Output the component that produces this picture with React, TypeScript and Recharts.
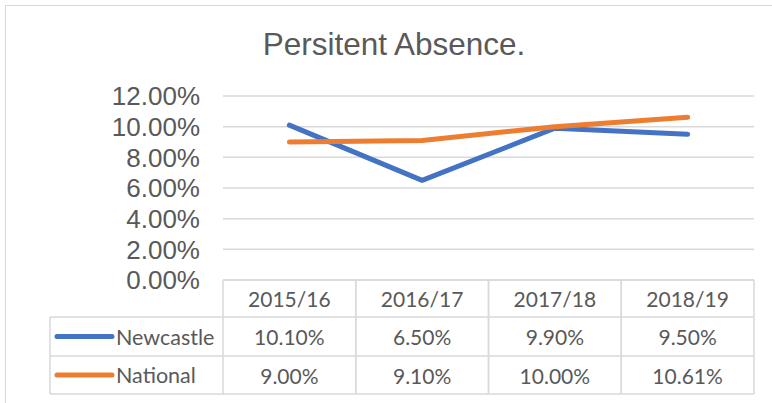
import React from "react";
import { LineChart, Line, XAxis, YAxis, CartesianGrid } from "recharts";

const categories = ["2015/16", "2016/17", "2017/18", "2018/19"];
const newcastle = [0.101, 0.065, 0.099, 0.095];
const national = [0.09, 0.091, 0.1, 0.1061];
const newcastleLabels = ["10.10%", "6.50%", "9.90%", "9.50%"];
const nationalLabels = ["9.00%", "9.10%", "10.00%", "10.61%"];
const yTicks = [0, 0.02, 0.04, 0.06, 0.08, 0.1, 0.12];
const seriesNames = ["Newcastle", "National"];
const seriesColors = ["#4472C4", "#ED7D31"];

const data = categories.map((c, i) => ({
  cat: c,
  Newcastle: newcastle[i],
  National: national[i],
}));
const rowLabels = [newcastleLabels, nationalLabels];

const W = 772;
const H = 403;
const PLOT_LEFT = 223;
const PLOT_RIGHT = 754;
const HALF = (PLOT_RIGHT - PLOT_LEFT) / 8;
const ROWS = [0, 37, 76, 114];
const GRID = "#d9d9d9";
const TEXT = "#595959";
const TFONT = "Lato, 'Open Sans', sans-serif";

const TableTick = (props: any) => {
  const { x, y, payload, index } = props;
  const l = x - HALF;
  const r = x + HALF;
  const idx = payload?.index ?? index;
  const els: any[] = [];
  els.push(<line key="vl" x1={l} x2={l} y1={y} y2={y + ROWS[3]} stroke={GRID} strokeWidth={1.5} />);
  els.push(<line key="vr" x1={r} x2={r} y1={y} y2={y + ROWS[3]} stroke={GRID} strokeWidth={1.5} />);
  ROWS.forEach((dy, k) => {
    els.push(<line key={"h" + k} x1={l} x2={r} y1={y + dy} y2={y + dy} stroke={GRID} strokeWidth={1.5} />);
  });
  els.push(
    <text key="hd" x={x} y={y + 18} textAnchor="middle" dominantBaseline="central" fontSize={21} fill={TEXT} fontFamily={TFONT}>
      {payload.value}
    </text>
  );
  rowLabels.forEach((labels, s) => {
    const cy = (y + ROWS[s + 1] + y + ROWS[s + 2]) / 2;
    els.push(
      <text key={"v" + s} x={x} y={cy} textAnchor="middle" dominantBaseline="central" fontSize={21} fill={TEXT} fontFamily={TFONT}>
        {labels[idx]}
      </text>
    );
  });
  if (idx === 0) {
    const ll = l - 173;
    els.push(<line key="lvl" x1={ll} x2={ll} y1={y + ROWS[1]} y2={y + ROWS[3]} stroke={GRID} strokeWidth={1.5} />);
    [1, 2, 3].forEach((k) => {
      els.push(<line key={"lh" + k} x1={ll} x2={l} y1={y + ROWS[k]} y2={y + ROWS[k]} stroke={GRID} strokeWidth={1.5} />);
    });
    seriesNames.forEach((name, s) => {
      const cy = (y + ROWS[s + 1] + y + ROWS[s + 2]) / 2;
      els.push(
        <line key={"lg" + s} x1={ll + 7} x2={ll + 62} y1={cy} y2={cy} stroke={seriesColors[s]} strokeWidth={5} strokeLinecap="round" />
      );
      els.push(
        <text key={"ln" + s} x={ll + 66} y={cy} textAnchor="start" dominantBaseline="central" fontSize={21.5} fill={TEXT} fontFamily={TFONT}>
          {name}
        </text>
      );
    });
  }
  return <g>{els}</g>;
};

export default function App() {
  return (
    <div style={{ position: "absolute", left: 0, top: 0, width: W, height: H, background: "#fff", overflow: "hidden" }}>
      <div
        style={{
          position: "absolute",
          left: 5,
          top: 5,
          width: W + 20,
          height: H + 20,
          border: "1.5px solid #d9d9d9",
          boxSizing: "border-box",
        }}
      />
      <div
        style={{
          position: "absolute",
          left: 0,
          width: W,
          top: 26,
          textAlign: "center",
          fontFamily: "'Liberation Sans', Arial, sans-serif",
          fontSize: 31.5,
          color: TEXT,
          lineHeight: "36px",
          paddingLeft: 16,
          boxSizing: "border-box",
        }}
      >
        Persitent Absence.
      </div>
      <div style={{ position: "absolute", left: 0, top: 0 }}>
        <LineChart width={W} height={H} data={data} margin={{ top: 96, right: W - PLOT_RIGHT, bottom: 9, left: 0 }}>
          <CartesianGrid vertical={false} stroke={GRID} strokeWidth={1.5} />
          <XAxis
            dataKey="cat"
            height={114}
            padding={{ left: HALF, right: HALF }}
            axisLine={false}
            tickLine={false}
            tickSize={0}
            tickMargin={0}
            interval={0}
            tick={<TableTick />}
          />
          <YAxis
            width={PLOT_LEFT}
            domain={[0, 0.12]}
            ticks={yTicks}
            axisLine={false}
            tickLine={false}
            tickSize={0}
            tickMargin={23}
            interval={0}
            tickFormatter={(v: number) => (v * 100).toFixed(2) + "%"}
            tick={{ fontSize: 26, fill: TEXT, fontFamily: "'Liberation Sans', Arial, sans-serif" }}
          />
          <Line
            dataKey="Newcastle"
            stroke={seriesColors[0]}
            strokeWidth={5}
            dot={false}
            strokeLinecap="round"
            strokeLinejoin="round"
            isAnimationActive={false}
          />
          <Line
            dataKey="National"
            stroke={seriesColors[1]}
            strokeWidth={5}
            dot={false}
            strokeLinecap="round"
            strokeLinejoin="round"
            isAnimationActive={false}
          />
        </LineChart>
      </div>
    </div>
  );
}
